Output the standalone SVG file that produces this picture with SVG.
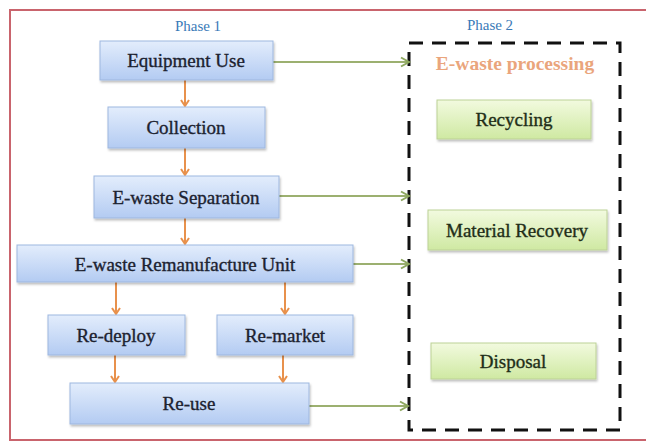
<svg xmlns="http://www.w3.org/2000/svg" width="646" height="446" viewBox="0 0 646 446">
<defs>
<linearGradient id="gb" x1="0" y1="0" x2="0" y2="1"><stop offset="0" stop-color="#e3edfc"/><stop offset="1" stop-color="#b3cbf2"/></linearGradient>
<linearGradient id="gg" x1="0" y1="0" x2="0" y2="1"><stop offset="0" stop-color="#f2fadf"/><stop offset="1" stop-color="#cfe9a2"/></linearGradient>
<marker id="ao" markerWidth="10" markerHeight="10" refX="7" refY="5" orient="auto" markerUnits="userSpaceOnUse"><path d="M1,1 L7,5 L1,9" fill="none" stroke="#e8914c" stroke-width="2"/></marker>
<marker id="ag" markerWidth="12" markerHeight="12" refX="9" refY="6" orient="auto" markerUnits="userSpaceOnUse"><path d="M1,1.5 L9,6 L1,10.5" fill="none" stroke="#8ea860" stroke-width="2"/></marker>
<filter id="sh" x="-10%" y="-20%" width="120%" height="150%"><feDropShadow dx="1" dy="2" stdDeviation="1.2" flood-color="#000" flood-opacity="0.25"/></filter>
</defs>
<style>
.b{fill:url(#gb);stroke:#9eb7df;stroke-width:1;filter:url(#sh)}
.g{fill:url(#gg);stroke:#bcd196;stroke-width:1;filter:url(#sh)}
text{font-family:"Liberation Serif","Times New Roman",serif}
.t{font-size:19px;fill:#1c2230;stroke:#1c2230;stroke-width:0.35;text-anchor:middle;dominant-baseline:central}
.tg{fill:#1f2e18;stroke:#1f2e18}
.ph{font-size:15px;fill:#3a7ab8;text-anchor:middle}
.o{stroke:#e8914c;stroke-width:2;fill:none;marker-end:url(#ao)}
.gr{stroke:#9cb070;stroke-width:2;fill:none;marker-end:url(#ag)}
</style>
<rect width="646" height="446" fill="#fff"/>
<rect x="10" y="10" width="640" height="430" fill="none" stroke="#c9646d" stroke-width="2"/>
<text class="ph" x="198" y="31">Phase 1</text>
<text class="ph" x="490" y="30">Phase 2</text>
<rect id="phase2box" x="409" y="43" width="211" height="387" fill="none" stroke="#111" stroke-width="3" stroke-dasharray="14 9"/>
<text x="515" y="70" font-size="19.5" font-weight="bold" fill="#eaa57c" text-anchor="middle">E-waste processing</text>
<g id="connectors">
<path class="o" d="M185,80 V106"/>
<path class="o" d="M185,148 V175"/>
<path class="o" d="M185,218 V244"/>
<path class="o" d="M116,282 V314"/>
<path class="o" d="M285,282 V314"/>
<path class="o" d="M115,355 V382"/>
<path class="o" d="M283,355 V382"/>
<path class="gr" d="M273,62 H409"/>
<path class="gr" d="M279,196 H409"/>
<path class="gr" d="M353,264 H409"/>
<path class="gr" d="M309,406 H408"/>
</g>
<g id="equipment-use"><rect class="b" x="100" y="41" width="173" height="39"/><text class="t" x="186" y="60">Equipment Use</text></g>
<g id="collection"><rect class="b" x="108" y="107" width="157" height="41"/><text class="t" x="186" y="127">Collection</text></g>
<g id="separation"><rect class="b" x="94" y="176" width="185" height="42"/><text class="t" x="186" y="197">E-waste Separation</text></g>
<g id="remanufacture"><rect class="b" x="17" y="245" width="336" height="37"/><text class="t" x="185" y="264">E-waste Remanufacture Unit</text></g>
<g id="redeploy"><rect class="b" x="48" y="315" width="137" height="40"/><text class="t" x="116" y="335">Re-deploy</text></g>
<g id="remarket"><rect class="b" x="217" y="315" width="136" height="40"/><text class="t" x="285" y="335">Re-market</text></g>
<g id="reuse"><rect class="b" x="70" y="383" width="239" height="41"/><text class="t" x="189" y="403">Re-use</text></g>
<g id="recycling"><rect class="g" x="437" y="100" width="154" height="39"/><text class="t tg" x="514" y="119">Recycling</text></g>
<g id="material-recovery"><rect class="g" x="428" y="210" width="179" height="40"/><text class="t tg" x="517" y="230">Material Recovery</text></g>
<g id="disposal"><rect class="g" x="431" y="343" width="165" height="36"/><text class="t tg" x="513" y="361">Disposal</text></g>
</svg>
